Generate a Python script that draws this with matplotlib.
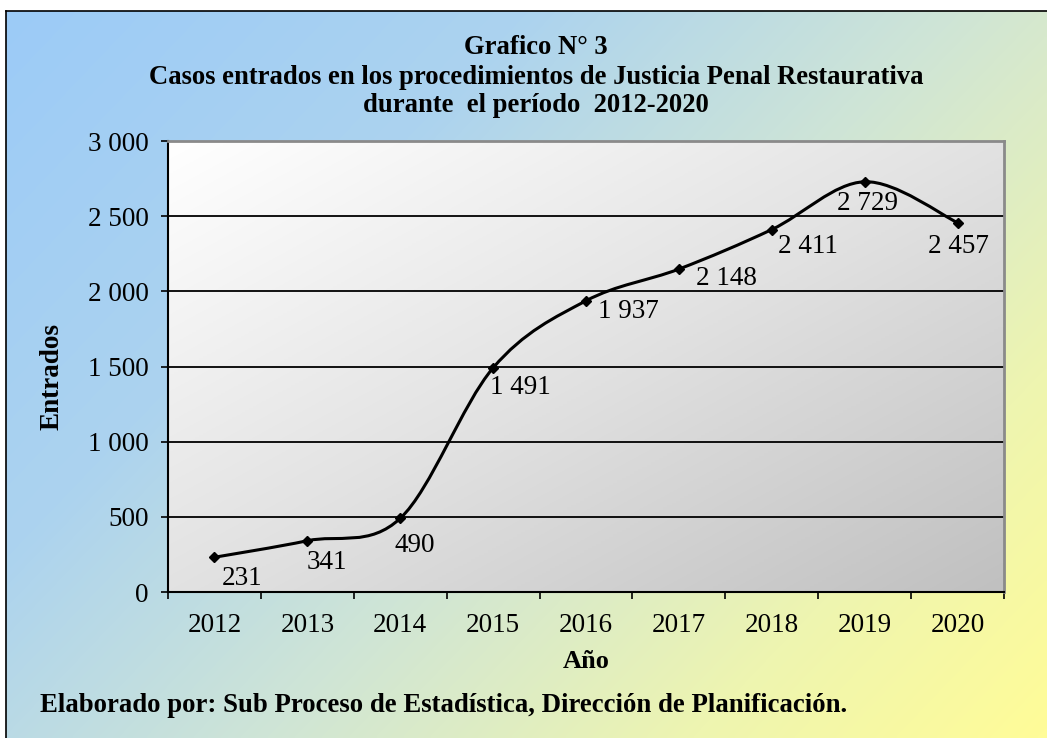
import numpy as np
import matplotlib.pyplot as plt
from matplotlib.path import Path
from matplotlib.patches import PathPatch
from matplotlib.colors import LinearSegmentedColormap

# datos del grafico
years = ['2012', '2013', '2014', '2015', '2016', '2017', '2018', '2019', '2020']
entrados = [231, 341, 490, 1491, 1937, 2148, 2411, 2729, 2457]
y_ticks = [0, 500, 1000, 1500, 2000, 2500, 3000]

title_lines = ['Grafico N° 3',
               'Casos entrados en los procedimientos de Justicia Penal Restaurativa',
               'durante  el período  2012-2020']
footer_text = 'Elaborado por: Sub Proceso de Estadística, Dirección de Planificación.'

# desplazamiento de cada etiqueta respecto a su punto (pixeles)
label_offsets = [(28, -21), (20, -22), (15, -27), (27, -20), (42, -11),
                 (48, -9), (36, -17), (3, -22), (1, -24)]

plt.rcParams['font.family'] = ['Liberation Serif', 'DejaVu Serif']


def thousands(v):
    return f'{v:,}'.replace(',', ' ')


def smooth_path(xs, ys):
    # curva suavizada tipo Excel (Bezier de Catmull-Rom)
    pts = np.column_stack([xs, ys]).astype(float)
    ext = np.vstack([pts[0], pts, pts[-1]])
    verts = [pts[0]]
    codes = [Path.MOVETO]
    for i in range(len(pts) - 1):
        p0, p1, p2, p3 = ext[i], ext[i + 1], ext[i + 2], ext[i + 3]
        verts += [p1 + (p2 - p0) / 6, p2 - (p3 - p1) / 6, p2]
        codes += [Path.CURVE4] * 3
    return Path(verts, codes)


def main():
    W, H = 1047, 738
    fig = plt.figure(figsize=(W / 100, H / 100), dpi=100)
    fig.patch.set_facecolor('white')

    # fondo con degradado
    bg = fig.add_axes([6 / W, 0, 1 - 6 / W, 1 - 11 / H])
    gx, gy = np.meshgrid(np.linspace(0, 1, 300), np.linspace(0, 1, 220))
    t = 0.6 * gx + 0.4 * gy
    bg_cmap = LinearSegmentedColormap.from_list(
        'bg', [(0, '#9ccbf7'), (0.3, '#acd3ef'), (0.55, '#cfe5d6'),
               (0.8, '#eef5b0'), (1, '#fffc98')])
    bg.imshow(t, cmap=bg_cmap, aspect='auto', extent=[0, 1, 1, 0],
              interpolation='bilinear')
    bg.set_xlim(0, 1)
    bg.set_ylim(1, 0)
    bg.set_xticks([])
    bg.set_yticks([])
    for side in ['right', 'bottom']:
        bg.spines[side].set_visible(False)
    for side in ['left', 'top']:
        bg.spines[side].set_color('black')
        bg.spines[side].set_linewidth(1.2)

    # area de trazado
    left, right, top, bottom = 168, 1004, 141, 592
    ax = fig.add_axes([left / W, 1 - bottom / H, (right - left) / W,
                       (bottom - top) / H])

    px, py = np.meshgrid(np.linspace(0, 1, 200), np.linspace(0, 1, 200))
    pt = 0.5 * px + 0.5 * py
    pa_cmap = LinearSegmentedColormap.from_list('pa', ['#ffffff', '#e2e2e2', '#c0c0c0'])
    ax.imshow(pt, cmap=pa_cmap, aspect='auto', origin='upper',
              extent=[-0.5, len(years) - 0.5, 0, 3000],
              interpolation='bilinear', zorder=0)
    ax.set_xlim(-0.5, len(years) - 0.5)
    ax.set_ylim(0, 3000)

    for v in y_ticks[1:-1]:
        ax.axhline(v, color='black', lw=1.3, zorder=1)

    xs = np.arange(len(years))
    ax.add_patch(PathPatch(smooth_path(xs, entrados), facecolor='none',
                           edgecolor='black', lw=2.2, zorder=3))
    ax.plot(xs, entrados, linestyle='none', marker='D', markersize=5,
            color='black', zorder=4)

    for x, v, off in zip(xs, entrados, label_offsets):
        ax.annotate(thousands(v), (x, v), xytext=off, textcoords='offset pixels',
                    ha='center', va='center', fontsize=19.5, zorder=5)

    ax.set_yticks(y_ticks)
    ax.set_yticklabels([thousands(v) for v in y_ticks], fontsize=19.5)
    ax.set_xticks(xs)
    ax.set_xticklabels(years, fontsize=19.5)
    ax.set_xticks(np.arange(len(years) + 1) - 0.5, minor=True)
    ax.tick_params(axis='x', which='major', length=0, pad=15)
    ax.tick_params(axis='x', which='minor', length=5, width=1.2, direction='out')
    ax.tick_params(axis='y', length=5, width=1.2, direction='out', pad=9)

    ax.spines['left'].set_linewidth(1.5)
    ax.spines['bottom'].set_linewidth(1.5)
    ax.spines['top'].set_color('#8a8a8a')
    ax.spines['right'].set_color('#8a8a8a')
    ax.spines['top'].set_linewidth(2)
    ax.spines['right'].set_linewidth(2)

    # textos
    for yc, line in zip([48, 77, 106], title_lines):
        fig.text(536 / W, 1 - yc / H, line, ha='center', va='center',
                 fontsize=19.2, fontweight='bold')
    fig.text(52 / W, 1 - 377 / H, 'Entrados', rotation=90, ha='center',
             va='center', fontsize=19.5, fontweight='bold')
    fig.text(586 / W, 1 - 662 / H, 'Año', ha='center', va='center',
             fontsize=19, fontweight='bold')
    fig.text(40 / W, 1 - 705 / H, footer_text, ha='left', va='center',
             fontsize=19.3, fontweight='bold')

    fig.savefig('out.png', dpi=100)


if __name__ == '__main__':
    main()
